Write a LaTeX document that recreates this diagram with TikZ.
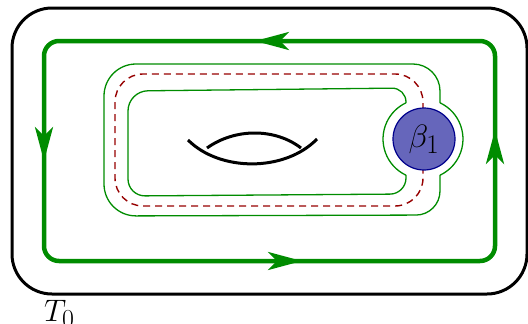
\documentclass[tikz,border=0pt]{standalone}
\usepackage{amsmath}
\usepackage{amssymb}
\usepackage{graphicx}
\usepackage{tikz}
\usetikzlibrary{arrows.meta}
\definecolor{trackgreen}{RGB}{0,140,0}
\definecolor{spinered}{RGB}{150,0,0}
\definecolor{holefill}{RGB}{102,102,187}
\definecolor{holeline}{RGB}{0,0,140}

\begin{document}
\begin{tikzpicture}[x = 1pt, y = -1pt,
    rim/.style = {draw, line width = 3pt, rounded corners = 40pt},
    track/.style = {draw = trackgreen, line width = 4.5pt, rounded corners = 15pt},
    flow/.style = {trackgreen, line width = 4.5pt,
                   -{Stealth[length = 34pt, width = 18pt, inset = 9pt]}},
    wall/.style = {draw = trackgreen, line width = 1.3pt},
    spine/.style = {draw = spinered, line width = 1.4pt, dash pattern = on 7pt off 5pt,
                    rounded corners = 28pt},
    handle/.style = {draw, line width = 3pt},
    hole/.style = {circle, draw = holeline, line width = 1.2pt, fill = holefill,
                   minimum size = 62pt, inner sep = 0pt, font = \Huge}]
  \useasboundingbox (0, 0) rectangle (528, 324);
  % torus and its boundary loop
  \draw [rim] (12, 8) rectangle (527, 294);
  \draw [track] (44, 41) rectangle (495, 261);
  \draw [flow] (292, 41) -- (255, 41);
  \draw [flow] (44, 122) -- (44, 161);
  \draw [flow] (262, 261) -- (302, 261);
  \draw [flow] (495, 168) -- (495, 130);
  % band round the handle
  \draw [wall] (440, 102.8) [rounded corners = 27pt] -- (440, 64)
        [rounded corners = 32pt] -- (104, 64) -- (104, 216)
        [rounded corners = 24pt] -- (440, 215) -- (440, 175.2);
  \draw [wall] (406, 102.8) [rounded corners = 14pt] -- (406, 88)
        [rounded corners = 20pt] -- (128, 91) [rounded corners = 17pt] -- (128, 196)
        [rounded corners = 16pt] -- (406, 194) -- (406, 175.2);
  \draw [wall] (440, 102.8) arc [start angle = -64.8, end angle = 64.8, radius = 40];
  \draw [wall] (406, 175.2) arc [start angle = 115.2, end angle = 244.8, radius = 40];
  \draw [spine] (423, 110) -- (423, 74) -- (115, 74) -- (115, 206) -- (423, 206) -- (423, 168);
  % the handle
  \draw [handle] (188, 140) .. controls (220, 172) and (285, 172) .. (317, 139);
  \draw [handle] (207, 148) .. controls (235, 128) and (275, 128) .. (301, 148);
  \node [hole] (b1) at (424, 139) {\scalebox{1.3}{$\beta_1$}};
  \node [anchor = base west, inner sep = 0pt, font = \Huge] (t0) at (44, 321)
        {\scalebox{1.25}{$T_0$}};
\end{tikzpicture}
\end{document}
